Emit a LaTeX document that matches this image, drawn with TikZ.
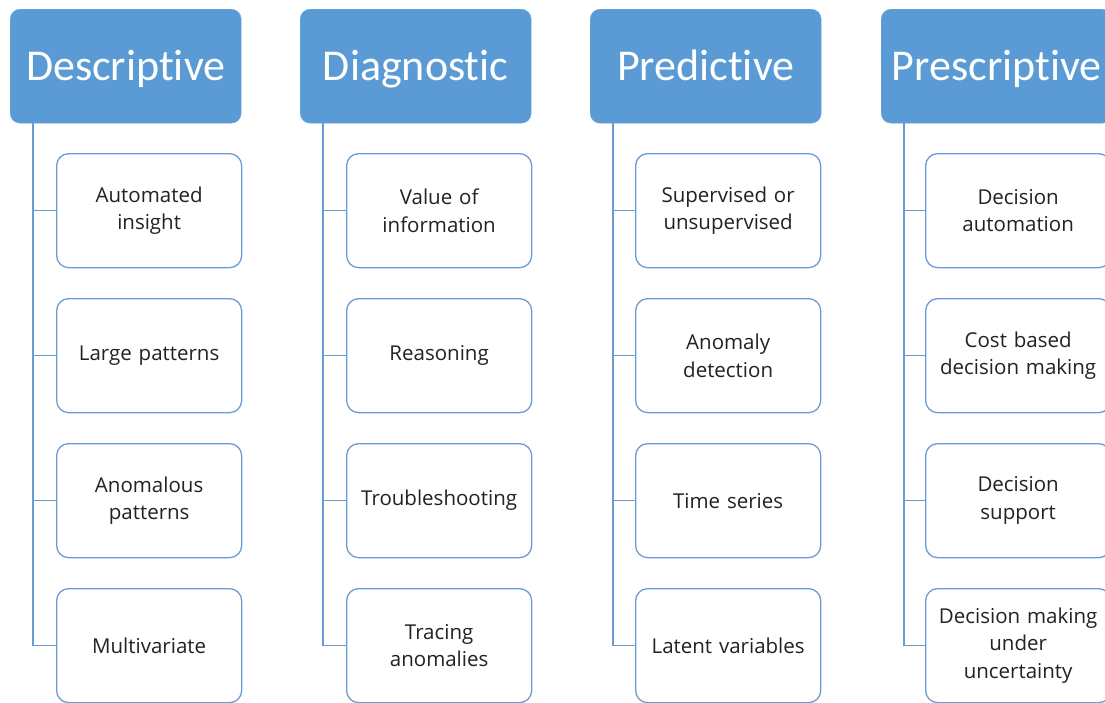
\documentclass[tikz,border=0pt]{standalone}
\usepackage{fontspec}
\setmainfont{Open Sans}
\newfontfamily\headfont[Ligatures=NoCommon]{Carlito}
\definecolor{hblue}{HTML}{5B9BD5}
\definecolor{lblue}{HTML}{6A9CD4}
\definecolor{tgray}{HTML}{222222}
\begin{document}
\begin{tikzpicture}[x=1pt,y=-1pt,
  head/.style={fill=hblue,draw=hblue!90!white,rounded corners=10pt,minimum width=231pt,minimum height=114pt,anchor=north west,inner sep=0pt,text=white,text height=29pt,text depth=1pt,font=\headfont\fontsize{44}{50}\selectfont},
  child/.style={draw=lblue,line width=1.3pt,fill=white,rounded corners=12pt,minimum width=185pt,minimum height=114pt,anchor=north west,inner sep=0pt,text=tgray,align=center,text width=185pt,font=\fontsize{20.5}{27.5}\selectfont},
  conn/.style={draw=lblue,line width=1.5pt}]
\useasboundingbox (0,0) rectangle (1105,702);
\clip (0,0) rectangle (1105,702);
\fill[white] (0,0) rectangle (1105,702);
% headers
\node[head] (h1) at (10,9) {Descriptive};
\node[head] (h2) at (300,9) {Diagnostic};
\node[head] (h3) at (590,9) {Predictive};
\node[head] (h4) at (881,9) {Prescriptive};
% children
\node[child] (c11) at (56,153) {Automated\\insight};
\node[child] (c12) at (56,298) {Large patterns};
\node[child] (c13) at (56,443) {Anomalous\\patterns};
\node[child] (c14) at (56,588) {Multivariate};
\node[child] (c21) at (346,153) {Value of\\information};
\node[child] (c22) at (346,298) {Reasoning};
\node[child] (c23) at (346,443) {Troubleshooting};
\node[child] (c24) at (346,588) {Tracing\\anomalies};
\node[child] (c31) at (635,153) {Supervised or\\unsupervised};
\node[child] (c32) at (635,298) {Anomaly\\detection};
\node[child] (c33) at (635,443) {Time series};
\node[child] (c34) at (635,588) {Latent variables};
\node[child] (c41) at (925,153) {Decision\\automation};
\node[child] (c42) at (925,298) {Cost based\\decision making};
\node[child] (c43) at (925,443) {Decision\\support};
\node[child] (c44) at (925,588) {Decision making\\under\\uncertainty};
% connectors
\foreach \i in {1,2,3,4}{
  \foreach \k in {1,2,3,4}{
    \draw[conn] ([xshift=23pt]h\i.south west) |- (c\i\k.west);
  }
}
\end{tikzpicture}
\end{document}
